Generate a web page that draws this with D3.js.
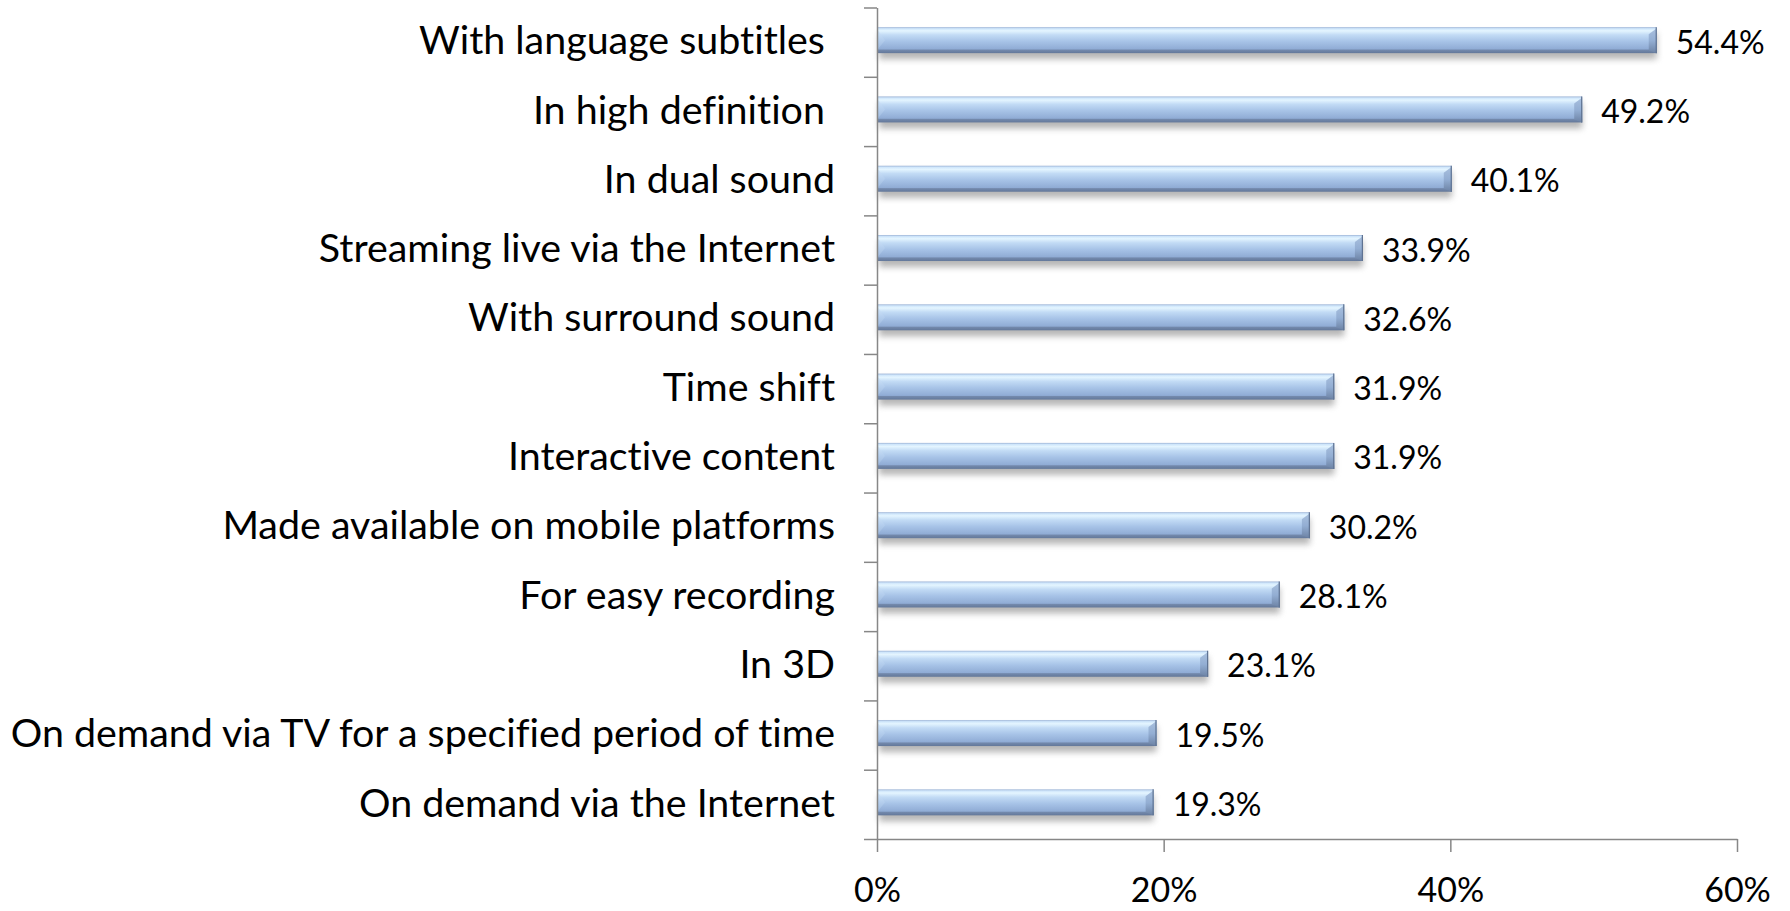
<!DOCTYPE html>
<html>
<head>
<meta charset="utf-8">
<script src="https://cdn.jsdelivr.net/npm/d3@7/dist/d3.min.js"></script>
<style>
  html, body { margin: 0; padding: 0; background: #ffffff; }
  svg { display: block; }
  text { font-variant-ligatures: none; font-feature-settings: "liga" 0, "clig" 0; }
  .cat { font-family: Lato, "Open Sans", sans-serif; font-size: 39.4px; fill: #000; white-space: pre; }
  .val { font-family: Lato, "Open Sans", sans-serif; font-size: 32px; fill: #000; }
  .xtick { font-family: Lato, "Open Sans", sans-serif; font-size: 34px; fill: #000; }
</style>
</head>
<body>
<svg id="chart" width="1790" height="911"></svg>
<script>
// Share of respondents wanting each programme feature
const categories = [
  "With language subtitles ",
  "In high definition ",
  "In dual sound",
  "Streaming live via the Internet",
  "With surround sound",
  "Time shift",
  "Interactive content",
  "Made available on mobile platforms",
  "For easy recording",
  "In 3D",
  "On demand via TV for a specified period of time",
  "On demand via the Internet"
];
const values = [54.4, 49.2, 40.1, 33.9, 32.6, 31.9, 31.9, 30.2, 28.1, 23.1, 19.5, 19.3];
const xTickValues = [0, 20, 40, 60];
const xTickLabels = ["0%", "20%", "40%", "60%"];

const svg = d3.select("#chart");
const plot = { left: 877, right: 1737, top: 7.5, bottom: 839 };

const x = d3.scaleLinear().domain([0, 60]).range([plot.left, plot.right]);
const y = d3.scaleBand().domain(categories).range([plot.top, plot.bottom]).padding(0);
const bw = y.bandwidth();
const barH = 26;
const barOff = (bw - barH) / 2 - 2;

// Gradients and shadow
const defs = svg.append("defs");
const g1 = defs.append("linearGradient").attr("id", "barFill")
  .attr("x1", 0).attr("y1", 0).attr("x2", 0).attr("y2", 1);
[
  [0, "#9db4d6"], [0.06, "#cfe6fb"], [0.14, "#e4f5ff"], [0.3, "#c2dbf5"],
  [0.55, "#a7c3e7"], [0.84, "#90acd5"], [0.88, "#7389ac"], [1, "#63789a"]
].forEach(([o, c]) => g1.append("stop").attr("offset", o).attr("stop-color", c));

const g2 = defs.append("linearGradient").attr("id", "endFill")
  .attr("x1", 0).attr("y1", 0).attr("x2", 0).attr("y2", 1);
[
  [0, "#a9c0de"], [0.5, "#93aed3"], [1, "#6c82a4"]
].forEach(([o, c]) => g2.append("stop").attr("offset", o).attr("stop-color", c));

const g3 = defs.append("linearGradient").attr("id", "startFill")
  .attr("x1", 0).attr("y1", 0).attr("x2", 0).attr("y2", 1);
[
  [0, "#d6eafc"], [0.5, "#b5cfee"], [1, "#9cb7dc"]
].forEach(([o, c]) => g3.append("stop").attr("offset", o).attr("stop-color", c));

const blur = defs.append("filter").attr("id", "shadow")
  .attr("x", "-5%").attr("y", "-50%").attr("width", "110%").attr("height", "200%");
blur.append("feGaussianBlur").attr("stdDeviation", 3);

// Bars
const bars = svg.append("g").selectAll("g").data(categories).join("g")
  .attr("transform", d => `translate(0,${y(d) + barOff})`);

bars.append("rect")
  .attr("x", x(0) + 2)
  .attr("y", 6)
  .attr("width", (d, i) => x(values[i]) - x(0) - 2)
  .attr("height", barH)
  .attr("fill", "#7a7a7a")
  .attr("opacity", 0.55)
  .attr("filter", "url(#shadow)");

bars.append("rect")
  .attr("x", x(0))
  .attr("y", 0)
  .attr("width", (d, i) => x(values[i]) - x(0))
  .attr("height", barH)
  .attr("fill", "url(#barFill)");

// bevelled right end
bars.append("path")
  .attr("d", (d, i) => {
    const e = x(values[i]);
    return `M${e - 8},${7} L${e},${1} L${e},${barH} L${e - 8},${barH - 3} Z`;
  })
  .attr("fill", "url(#endFill)");
bars.append("line")
  .attr("x1", (d, i) => x(values[i]) - 0.5).attr("x2", (d, i) => x(values[i]) - 0.5)
  .attr("y1", 0).attr("y2", barH)
  .attr("stroke", "#5f7392").attr("stroke-width", 1.2);

// bevelled left end
bars.append("path")
  .attr("d", `M${x(0)},2 L${x(0) + 8},${barH / 2} L${x(0)},${barH - 3} Z`)
  .attr("fill", "url(#startFill)");

// Value labels
bars.append("text")
  .attr("class", "val")
  .attr("x", (d, i) => x(values[i]) + 19)
  .attr("y", barH / 2 + 2)
  .attr("dy", "0.36em")
  .text((d, i) => values[i].toFixed(1) + "%");

// Category axis: ticks on the band boundaries
const yEdges = d3.scaleLinear().domain([0, categories.length]).range([plot.top, plot.bottom]);
const yAxis = svg.append("g")
  .attr("transform", `translate(${plot.left},0)`)
  .call(d3.axisLeft(yEdges).ticks(categories.length).tickSize(13).tickSizeOuter(0).tickFormat(""));
yAxis.selectAll("path, line").attr("stroke", "#878787").attr("stroke-width", 1.5);

// Category labels
svg.append("g").selectAll("text").data(categories).join("text")
  .attr("class", "cat")
  .attr("x", 835)
  .attr("y", d => y(d) + bw / 2 - 2)
  .attr("dy", "0.36em")
  .attr("text-anchor", "end")
  .text(d => d);

// Value axis
const xAxis = svg.append("g")
  .attr("transform", `translate(0,${plot.bottom})`)
  .call(d3.axisBottom(x).tickValues(xTickValues).tickSize(13).tickSizeOuter(0)
    .tickFormat((d, i) => xTickLabels[i]));
xAxis.selectAll("path, line").attr("stroke", "#878787").attr("stroke-width", 1.5);
xAxis.selectAll("text")
  .attr("class", "xtick")
  .attr("font-family", null).attr("font-size", null)
  .attr("y", 63).attr("dy", null)
  .style("fill", "#000");
</script>
</body>
</html>
